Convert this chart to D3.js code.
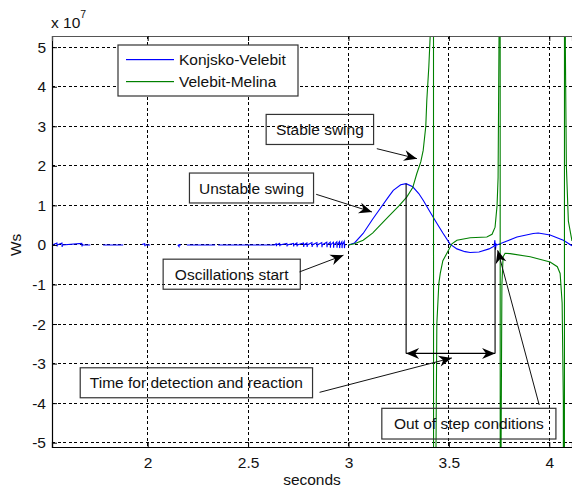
<!DOCTYPE html>
<html>
<head>
<meta charset="utf-8">
<script src="https://cdn.jsdelivr.net/npm/d3@7"></script>
<style>
  body { margin: 0; background: #fff; }
  svg { font-family: "Liberation Sans", Arial, sans-serif; }
</style>
</head>
<body>
<div id="chart"></div>
<script>
// tick values
var xTicks = [2, 2.5, 3, 3.5, 4];
var yTicks = [-5, -4, -3, -2, -1, 0, 1, 2, 3, 4, 5];

// Konjsko-Velebit (blue), values in 1e7 Ws, null = gap in the trace
var blueTime = [1.524, 1.548, 1.549, 1.550, 1.573, 1.574, 1.575, 1.672, 1.673, 1.674, 1.714, null,
  1.778, 1.878, null,
  1.971, 1.985, 1.986, 1.987, 2.012, null,
  2.150, 2.156, 2.157, 2.158, 2.166, null,
  2.195, 2.336, null,
  2.351, 2.630,
  2.640, 2.641, 2.642, 2.657, 2.658, 2.659, 2.693, 2.694, 2.695, 2.726, 2.727, 2.728,
  2.743, 2.744, 2.745, 2.776, 2.777, 2.778, 2.793, 2.794, 2.795, 2.818, 2.819, 2.820,
  2.843, 2.844, 2.845, 2.867, 2.868, 2.869, 2.892, 2.893, 2.894, 2.909, 2.910, 2.911,
  2.925, 2.926, 2.927, 2.942, 2.943, 2.944, 2.955, 2.956, 2.957, 2.967, 2.968, 2.969,
  2.979, 2.980, 2.981, 2.985, null,
  3.000, 3.030, 3.073, 3.120, 3.158, 3.200, 3.223, 3.260, 3.287, 3.320, 3.350, 3.372, 3.410, 3.440,
  3.470, 3.506, 3.540, 3.580, 3.606, 3.650, 3.700, 3.725, 3.729, 3.732, 3.735, 3.740, 3.780, 3.839,
  3.920, 3.945, 4.004, 4.070, 4.113];
var blueWs = [0, 0.05, -0.04, 0, 0.05, -0.05, 0, 0.04, -0.04, 0, 0, null,
  0, 0, null,
  0.01, 0.03, -0.03, 0, 0, null,
  0, -0.04, 0.02, 0, 0, null,
  0, 0, null,
  0, 0,
  0.03, -0.03, 0, 0.04, -0.03, 0, 0.04, -0.04, 0, 0.04, -0.04, 0,
  0.05, -0.04, 0, 0.05, -0.05, 0, 0.05, -0.05, 0, 0.06, -0.05, 0,
  0.06, -0.06, 0, 0.06, -0.06, 0, 0.07, -0.06, 0, 0.07, -0.07, 0,
  0.07, -0.07, 0, 0.08, -0.07, 0, 0.08, -0.08, 0, 0.08, -0.08, 0,
  0.09, -0.08, 0, 0, null,
  0, 0.05, 0.29, 0.65, 0.92, 1.22, 1.38, 1.52, 1.55, 1.47, 1.30, 1.13, 0.80, 0.55,
  0.30, 0.02, -0.10, -0.17, -0.19, -0.18, -0.10, -0.03, 0.12, -0.12, 0.02, 0, 0.08, 0.20,
  0.29, 0.30, 0.25, 0.12, -0.02];

// Velebit-Melina (green); large values run off the axes (pole crossings)
var greenTime = [3.000, 3.030, 3.073, 3.120, 3.158, 3.200, 3.250, 3.290, 3.320, 3.340, 3.360, 3.372, 3.385, 3.390,
  3.400, 3.407, 3.415, 3.422, 3.425, 3.432, 3.440, 3.450, 3.457, 3.470, 3.490, 3.515, 3.540, 3.606,
  3.689, 3.715, 3.730, 3.740, 3.745, 3.750, 3.754, 3.757, 3.760, 3.764, 3.770, 3.780, 3.805, 3.905,
  4.004, 4.040, 4.054, 4.064, 4.070, 4.074, 4.077, 4.080, 4.085, 4.095, 4.113];
var greenWs = [0, 0.03, 0.12, 0.30, 0.50, 0.72, 0.98, 1.21, 1.45, 1.80, 2.10, 2.39, 3.00, 3.65,
  4.50, 5.30, 8, 60, -60, -8, -2.0, -0.97, -0.72, -0.40, -0.21, 0.03, 0.12, 0.18,
  0.20, 0.27, 0.45, 1.00, 1.70, 5.50, 60, -60, -5, -1.0, -0.30, -0.21, -0.22, -0.30,
  -0.43, -0.55, -0.72, -1.47, -4, -60, 60, 5, 2.0, 0.6, 0.1];

var legendNames = ["Konjsko-Velebit", "Velebit-Melina"];
var seriesColors = ["#0000ff", "#008000"];

// annotation boxes in data units: [t0, t1, vTop, vBottom]
var notes = [
  {text: "Stable swing", box: [2.590, 3.125, 3.30, 2.54], from: [3.141, 2.434], to: [3.341, 2.182]},
  {text: "Unstable swing", box: [2.208, 2.826, 1.818, 1.061], from: [2.839, 1.280], to: [3.117, 0.833]},
  {text: "Oscillations start", box: [2.077, 2.760, -0.36, -1.12], from: [2.756, -0.682], to: [2.975, -0.260]},
  {text: "Time for detection and reaction", box: [1.664, 2.821, -3.106, -3.864], from: [2.856, -3.727], to: [3.515, -2.856]},
  {text: "Out of step conditions", box: [3.166, 4.033, -4.131, -4.907], from: [3.950, -4.048], to: [3.743, -0.134]}
];

// time-for-detection bracket: peak of blue swing to out-of-step point
var bracketT = [3.287, 3.730];
var bracketTop = [1.55, -0.05];
var bracketLevel = -2.742;

var W = 572, H = 490;
var margin = {top: 36, right: 0, bottom: 43, left: 52};
var plotW = W - margin.left - margin.right,
    plotH = H - margin.top - margin.bottom;

var x = d3.scaleLinear().domain([1.5235, 4.1131]).range([0, plotW]);
var y = d3.scaleLinear().domain([-5.109, 5.2828]).range([plotH, 0]);

var svg = d3.select("#chart").append("svg")
  .attr("width", W).attr("height", H);

var g = svg.append("g").attr("transform", "translate(" + margin.left + "," + margin.top + ")");

svg.append("defs").append("clipPath").attr("id", "clip")
  .append("rect").attr("width", plotW).attr("height", plotH);

// grid
var grid = g.append("g").attr("stroke", "#000").attr("stroke-width", 1)
  .attr("stroke-dasharray", "3,2.5").attr("shape-rendering", "crispEdges");
grid.selectAll(".gx").data(xTicks).enter().append("line")
  .attr("x1", d => x(d)).attr("x2", d => x(d)).attr("y1", 0).attr("y2", plotH);
grid.selectAll(".gy").data(yTicks).enter().append("line")
  .attr("x1", 0).attr("x2", plotW).attr("y1", d => y(d)).attr("y2", d => y(d));

// data lines
var plot = g.append("g").attr("clip-path", "url(#clip)");

function series(ts, vs) {
  return ts.map(function(t, i) { return [t, vs[i]]; });
}
var lineGen = d3.line()
  .defined(d => d[0] !== null && d[1] !== null)
  .x(d => x(d[0])).y(d => y(d[1]));

plot.append("path").datum(series(blueTime, blueWs))
  .attr("fill", "none").attr("stroke", seriesColors[0]).attr("stroke-width", 1.1).attr("d", lineGen);
plot.append("path").datum(series(greenTime, greenWs))
  .attr("fill", "none").attr("stroke", seriesColors[1]).attr("stroke-width", 1.1).attr("d", lineGen);

// axes
var fmt = d => String(d);
g.append("g").attr("transform", "translate(0," + plotH + ")")
  .call(d3.axisBottom(x).tickValues(xTicks).tickSize(-5).tickPadding(10).tickFormat(fmt));
g.append("g")
  .call(d3.axisLeft(y).tickValues(yTicks).tickSize(-5).tickPadding(6).tickFormat(fmt));
g.append("g")
  .call(d3.axisTop(x).tickValues(xTicks).tickSize(-5).tickFormat(""))
  .select(".domain").attr("stroke", "#555");
g.selectAll(".tick text").attr("font-size", 15.5).attr("fill", "#111")
  .attr("font-family", "'Liberation Sans', Arial, sans-serif");
g.selectAll(".domain").attr("stroke-width", 1.2);

// axis labels
svg.append("text").attr("x", margin.left + plotW / 2).attr("y", 485)
  .attr("text-anchor", "middle").attr("font-size", 15.5).attr("fill", "#111").text("seconds");
svg.append("text").attr("transform", "translate(21," + (margin.top + y(0)) + ") rotate(-90)")
  .attr("text-anchor", "middle").attr("font-size", 15.5).attr("fill", "#111").text("Ws");
var expo = svg.append("text").attr("x", 51).attr("y", 28).attr("font-size", 15.5).attr("fill", "#111");
expo.append("tspan").text("x 10");
expo.append("tspan").attr("dy", -10).attr("font-size", 10.5).text("7");

// arrowhead helper
function arrowHead(sel, tx, ty, fx, fy) {
  var a = Math.atan2(ty - fy, tx - fx), L = 13, w = 5.5, n = 9;
  var c = Math.cos(a), s = Math.sin(a);
  var p1 = [tx - L * c + w * s, ty - L * s - w * c];
  var p2 = [tx - n * c, ty - n * s];
  var p3 = [tx - L * c - w * s, ty - L * s + w * c];
  sel.append("path").attr("d", "M" + tx + "," + ty + "L" + p1 + "L" + p2 + "L" + p3 + "Z")
    .attr("fill", "#000");
}

var ann = g.append("g");

// bracket for detection time
ann.selectAll(".bv").data([0, 1]).enter().append("line")
  .attr("x1", i => x(bracketT[i])).attr("x2", i => x(bracketT[i]))
  .attr("y1", i => y(bracketTop[i])).attr("y2", y(bracketLevel))
  .attr("stroke", "#000").attr("stroke-width", 1.1);
ann.append("line").attr("x1", x(bracketT[0])).attr("x2", x(bracketT[1]))
  .attr("y1", y(bracketLevel)).attr("y2", y(bracketLevel))
  .attr("stroke", "#000").attr("stroke-width", 1.1);
arrowHead(ann, x(bracketT[0]), y(bracketLevel), x(bracketT[1]), y(bracketLevel));
arrowHead(ann, x(bracketT[1]), y(bracketLevel), x(bracketT[0]), y(bracketLevel));

// text boxes with arrows
notes.forEach(function(n) {
  ann.append("rect")
    .attr("x", x(n.box[0])).attr("y", y(n.box[2]))
    .attr("width", x(n.box[1]) - x(n.box[0])).attr("height", y(n.box[3]) - y(n.box[2]))
    .attr("fill", "none").attr("stroke", "#333").attr("stroke-width", 1.2);
  ann.append("text")
    .attr("x", (x(n.box[0]) + x(n.box[1])) / 2)
    .attr("y", (y(n.box[2]) + y(n.box[3])) / 2 + 5.5)
    .attr("text-anchor", "middle").attr("font-size", 15.5).attr("fill", "#111").text(n.text);
  ann.append("line")
    .attr("x1", x(n.from[0])).attr("y1", y(n.from[1]))
    .attr("x2", x(n.to[0])).attr("y2", y(n.to[1]))
    .attr("stroke", "#111").attr("stroke-width", 1);
  arrowHead(ann, x(n.to[0]), y(n.to[1]), x(n.from[0]), y(n.from[1]));
});

// legend
var lg = svg.append("g").attr("transform", "translate(118,45)");
lg.append("rect").attr("width", 180).attr("height", 51)
  .attr("fill", "#fff").attr("stroke", "#333").attr("stroke-width", 1.2);
var rows = lg.selectAll(".row").data(legendNames).enter().append("g")
  .attr("transform", (d, i) => "translate(0," + (14 + i * 22) + ")");
rows.append("rect").attr("x", 8).attr("y", 0).attr("width", 48).attr("height", 1.2)
  .attr("fill", (d, i) => seriesColors[i]);
rows.append("text").attr("x", 61).attr("y", 6).attr("font-size", 15.5)
  .attr("fill", "#111").text(d => d);
</script>
</body>
</html>
